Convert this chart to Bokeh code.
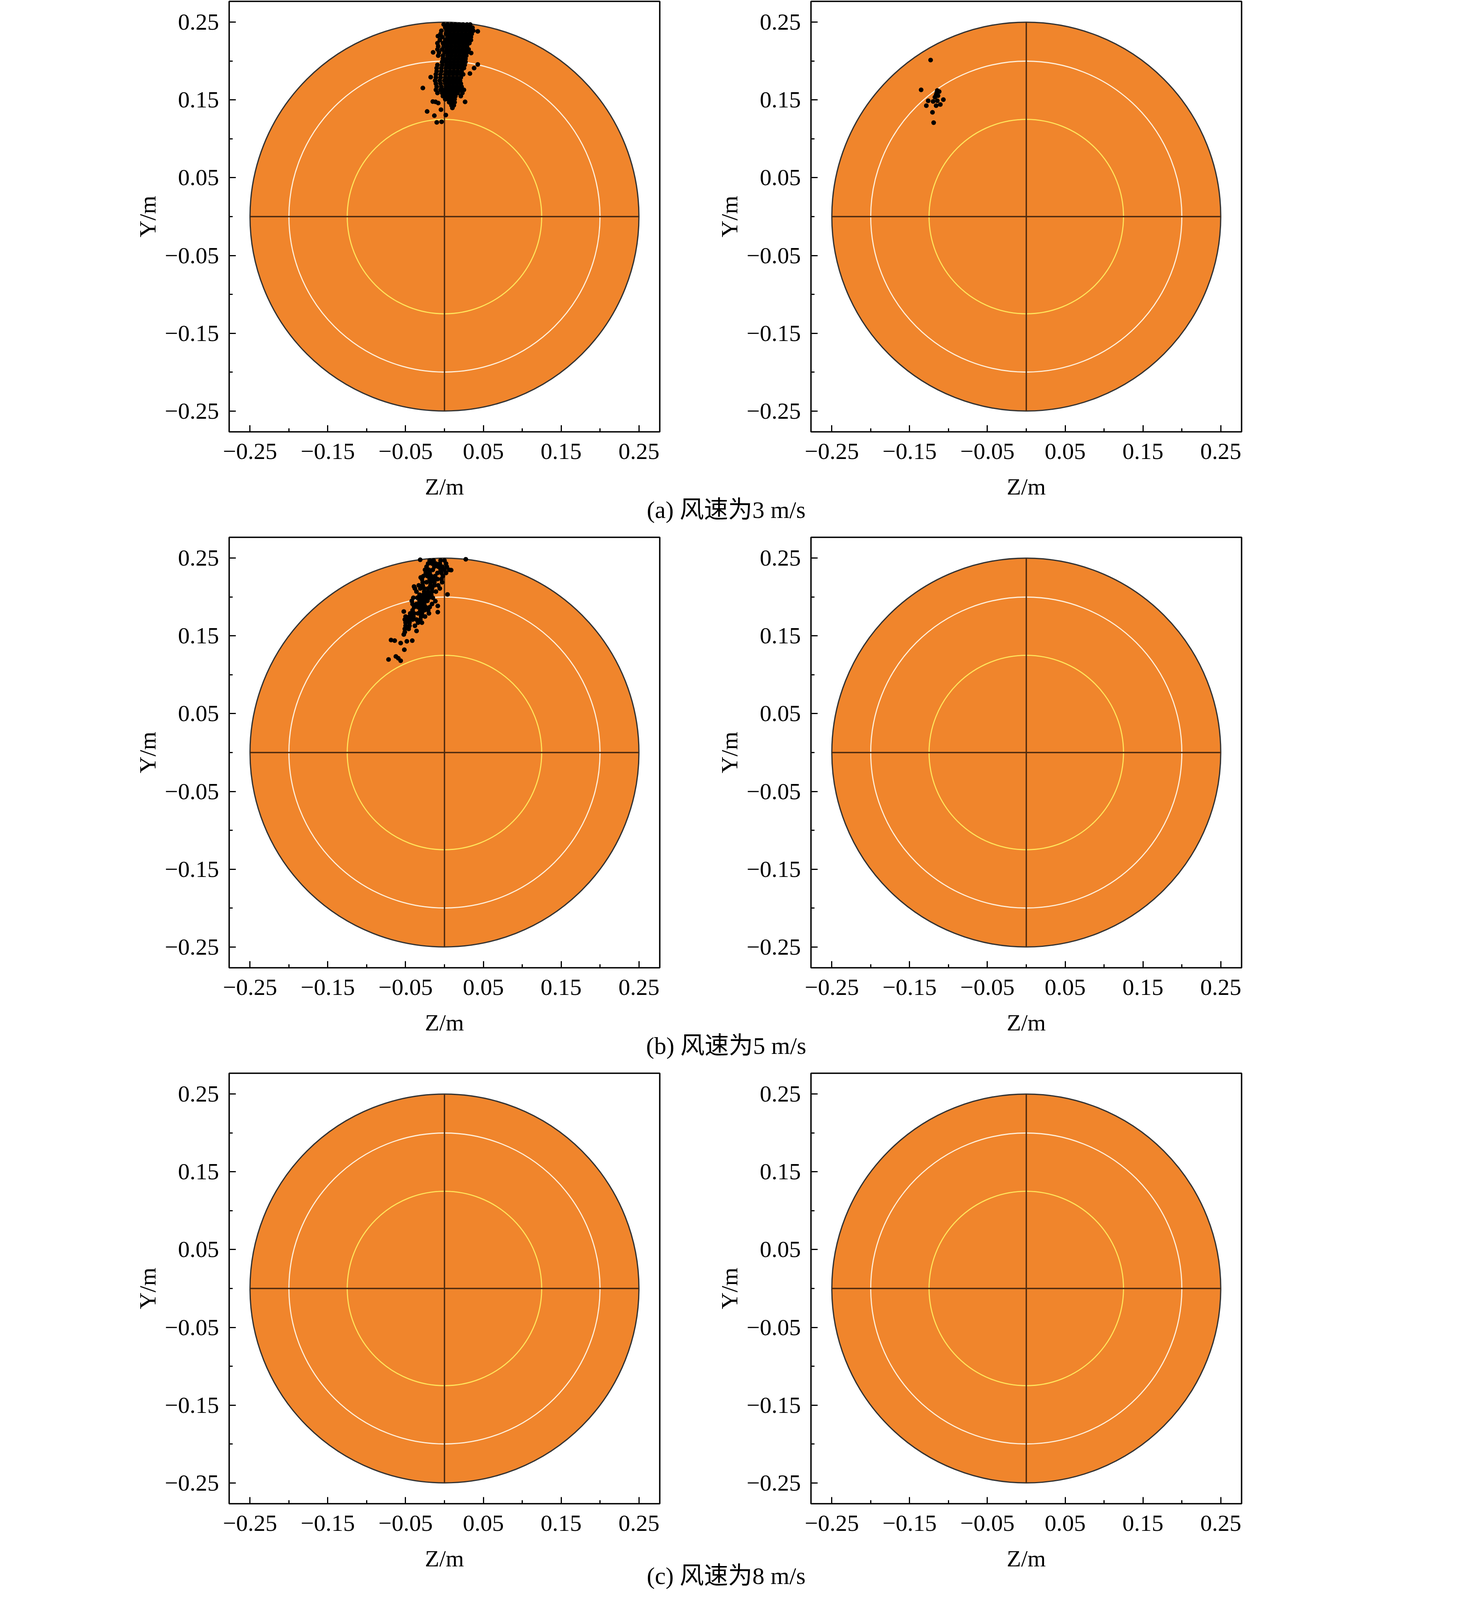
from bokeh.plotting import figure
from bokeh.layouts import column, row
from bokeh.models import Range1d, FixedTicker, CustomJSTickFormatter
from bokeh.core.properties import value
from bokeh.embed import file_html
from bokeh.resources import INLINE

# ---------------- data ----------------
TICKS = [-0.25, -0.15, -0.05, 0.05, 0.15, 0.25]
MINOR_TICKS = [-0.2, -0.1, 0.0, 0.1, 0.2]
AX_LIM = 0.2768
OUTER_R = 0.25
WHITE_R = 0.20
YELLOW_R = 0.125

CAPTIONS = ["(a) 风速为3 m/s", "(b) 风速为5 m/s", "(c) 风速为8 m/s"]
X_LABEL = "Z/m"
Y_LABEL = "Y/m"

# (a) left panel: dense cluster, rows of (Y, [Z ...])
A_LEFT_ROWS = [
    (0.247, [-0.001, 0.004, 0.009, 0.014, 0.019, 0.024, 0.029, 0.033]),
    (0.243, [0.001, 0.006, 0.011, 0.016, 0.021, 0.026, 0.031, 0.036]),
    (0.239, [-0.004, 0.003, 0.008, 0.013, 0.018, 0.023, 0.028, 0.033, 0.037]),
    (0.235, [-0.005, 0.002, 0.007, 0.012, 0.017, 0.022, 0.027, 0.032, 0.035]),
    (0.231, [-0.003, 0.004, 0.009, 0.014, 0.019, 0.024, 0.029, 0.034]),
    (0.227, [-0.006, 0.001, 0.006, 0.011, 0.016, 0.021, 0.026, 0.031, 0.034]),
    (0.223, [-0.009, -0.002, 0.003, 0.008, 0.013, 0.018, 0.023, 0.028, 0.032]),
    (0.219, [-0.008, -0.001, 0.004, 0.009, 0.014, 0.019, 0.024, 0.029]),
    (0.215, [-0.009, -0.003, 0.003, 0.008, 0.013, 0.018, 0.023, 0.028, 0.031]),
    (0.211, [-0.007, 0.000, 0.005, 0.010, 0.015, 0.020, 0.025, 0.029]),
    (0.207, [-0.008, -0.002, 0.004, 0.009, 0.014, 0.019, 0.024, 0.028]),
    (0.203, [-0.002, 0.003, 0.008, 0.013, 0.018, 0.023, 0.027]),
    (0.199, [-0.003, 0.002, 0.007, 0.012, 0.017, 0.022, 0.027]),
    (0.195, [-0.009, -0.003, 0.003, 0.008, 0.013, 0.018, 0.023, 0.026]),
    (0.191, [-0.010, -0.004, 0.002, 0.007, 0.012, 0.017, 0.022, 0.025]),
    (0.187, [-0.010, -0.004, 0.002, 0.007, 0.012, 0.017, 0.022]),
    (0.183, [-0.011, -0.005, 0.001, 0.006, 0.011, 0.016, 0.021, 0.024]),
    (0.179, [-0.011, -0.005, 0.001, 0.006, 0.011, 0.016, 0.021]),
    (0.175, [-0.012, -0.006, 0.000, 0.005, 0.010, 0.015, 0.020]),
    (0.171, [-0.011, -0.005, 0.001, 0.006, 0.011, 0.016, 0.021]),
    (0.167, [-0.010, -0.004, 0.002, 0.007, 0.012, 0.017, 0.022]),
    (0.163, [-0.011, -0.005, 0.000, 0.005, 0.010, 0.015, 0.020, 0.025]),
    (0.159, [-0.009, -0.003, 0.002, 0.007, 0.012, 0.017, 0.023]),
    (0.155, [-0.002, 0.002, 0.006, 0.010, 0.014, 0.021]),
    (0.151, [0.001, 0.005, 0.009, 0.013]),
    (0.147, [0.006, 0.010, 0.013]),
    (0.143, [0.009, 0.012]),
]
A_LEFT_EXTRA_Z = [0.0428, -0.0084, -0.0146, 0.0343, 0.0428, 0.0381, 0.0327, -0.0177,
                  -0.0278, -0.0115, 0.0265, -0.0045, -0.0223, -0.0130, 0.0017, -0.0099,
                  -0.0037, 0.0102, -0.0150, -0.0080]
A_LEFT_EXTRA_Y = [0.2383, 0.2321, 0.2112, 0.2104, 0.1957, 0.1910, 0.1840, 0.1794,
                  0.1654, 0.1476, 0.1476, 0.1375, 0.1352, 0.1298, 0.1306, 0.1212,
                  0.1220, 0.1398, 0.1480, 0.1460]

# (a) right panel
A_RIGHT_Z = [-0.1230, -0.1352, -0.1144, -0.1120, -0.1159, -0.1175, -0.1261, -0.1198,
             -0.1144, -0.1066, -0.1285, -0.1159, -0.1105, -0.1206, -0.1191, -0.1150, -0.1135]
A_RIGHT_Y = [0.2013, 0.1630, 0.1622, 0.1607, 0.1567, 0.1536, 0.1489, 0.1481,
             0.1489, 0.1505, 0.1427, 0.1427, 0.1442, 0.1341, 0.1208, 0.1600, 0.1555]

# (b) left panel
B_LEFT_ROWS = [
    (0.247, [-0.019, -0.014, -0.005, 0.000]),
    (0.243, [-0.021, -0.016, -0.011, -0.006, 0.002]),
    (0.239, [-0.023, -0.013, -0.008, -0.003, 0.003]),
    (0.235, [-0.025, -0.020, -0.015, -0.005, 0.000, 0.006]),
    (0.231, [-0.024, -0.019, -0.009, -0.004, 0.002]),
    (0.227, [-0.027, -0.022, -0.017, -0.012, -0.002]),
    (0.223, [-0.029, -0.019, -0.014, -0.009, -0.004]),
    (0.219, [-0.028, -0.023, -0.018, -0.013, -0.003]),
    (0.215, [-0.033, -0.028, -0.018, -0.013, -0.008]),
    (0.211, [-0.038, -0.031, -0.026, -0.021, -0.016, -0.006]),
    (0.207, [-0.036, -0.026, -0.021, -0.016, -0.011]),
    (0.203, [-0.032, -0.027, -0.022, -0.017]),
    (0.199, [-0.040, -0.035, -0.030, -0.025, -0.020, -0.015]),
    (0.195, [-0.042, -0.032, -0.027, -0.022]),
    (0.191, [-0.041, -0.036, -0.031, -0.026, -0.016]),
    (0.187, [-0.039, -0.034, -0.029, -0.024, -0.019]),
    (0.183, [-0.041, -0.031, -0.026, -0.021]),
    (0.179, [-0.044, -0.039, -0.034, -0.029, -0.020]),
    (0.175, [-0.050, -0.045, -0.040, -0.030, -0.025]),
    (0.171, [-0.051, -0.046, -0.041, -0.036, -0.031]),
    (0.167, [-0.050, -0.045, -0.034, -0.029]),
    (0.163, [-0.050, -0.045, -0.038]),
    (0.159, [-0.051, -0.046]),
    (0.155, [-0.051]),
]
B_LEFT_EXTRA_Z = [-0.0719, -0.0625, -0.0594, -0.0563, -0.0516, -0.0563, -0.0687, -0.0640,
                  -0.0484, -0.0414, -0.0523, -0.0359, -0.0523, -0.0086, -0.0086, -0.0117,
                  0.0039, -0.0312, 0.0274, 0.0086, -0.0391, -0.0305]
B_LEFT_EXTRA_Y = [0.1197, 0.1236, 0.1213, 0.1181, 0.1322, 0.1408, 0.1447, 0.1439,
                  0.1431, 0.1439, 0.1518, 0.1564, 0.1814, 0.1806, 0.1885, 0.1947,
                  0.2033, 0.2479, 0.2486, 0.2346, 0.2135, 0.2252]


def flatten(rows, extra_z, extra_y):
    zs, ys = [], []
    for yv, zrow in rows:
        for zv in zrow:
            zs.append(zv)
            ys.append(yv)
    return zs + list(extra_z), ys + list(extra_y)


A_LEFT_Z, A_LEFT_Y = flatten(A_LEFT_ROWS, A_LEFT_EXTRA_Z, A_LEFT_EXTRA_Y)
B_LEFT_Z, B_LEFT_Y = flatten(B_LEFT_ROWS, B_LEFT_EXTRA_Z, B_LEFT_EXTRA_Y)

PANELS = [
    [(A_LEFT_Z, A_LEFT_Y), (A_RIGHT_Z, A_RIGHT_Y)],
    [(B_LEFT_Z, B_LEFT_Y), ([], [])],
    [([], []), ([], [])],
]

# ---------------- style / layout (CSS px) ----------------
SERIF = "Liberation Serif"
CAP_FONT = "Liberation Serif, Noto Sans CJK SC"
FS = "60px"
CAP_FS = "62px"
ORANGE = "#F0852C"
FRAME = 1102
L_BORDER_L, L_BORDER_R = 586, 93
R_BORDER_L, R_BORDER_R = 294, 36
LEFT_W = L_BORDER_L + FRAME + L_BORDER_R
RIGHT_W = R_BORDER_L + FRAME + R_BORDER_R
TOP_B, BOTTOM_B = 3, 104
FIG_H = TOP_B + FRAME + BOTTOM_B
STRIP_H = 163
LAST_STRIP_H = 118
TOTAL_W = LEFT_W + RIGHT_W
ZLABEL_X = [L_BORDER_L + FRAME / 2, LEFT_W + R_BORDER_L + FRAME / 2]
CAPTION_X = 1858
CAPTION_DY = [95, 95, 80]

fmt = CustomJSTickFormatter(code="return (tick < -1e-9 ? '\u2212' : '') + Math.abs(tick).toFixed(2);")


def make_panel(zs, ys, border_left, border_right, width):
    p = figure(width=width, height=FIG_H, output_backend="svg", toolbar_location=None,
               x_range=Range1d(-AX_LIM, AX_LIM), y_range=Range1d(-AX_LIM, AX_LIM),
               min_border_left=border_left, min_border_right=border_right,
               min_border_top=TOP_B, min_border_bottom=BOTTOM_B, title=None)
    p.grid.visible = False
    p.background_fill_color = "white"
    p.border_fill_color = "white"
    p.outline_line_color = "black"
    p.outline_line_width = 3.6
    for ax in (p.xaxis[0], p.yaxis[0]):
        ax.ticker = FixedTicker(ticks=TICKS, minor_ticks=MINOR_TICKS)
        ax.formatter = fmt
        ax.axis_line_color = None
        ax.major_tick_in = 17
        ax.major_tick_out = 0
        ax.minor_tick_in = 9
        ax.minor_tick_out = 0
        ax.major_tick_line_width = 3
        ax.minor_tick_line_width = 3
        ax.major_tick_line_color = "black"
        ax.minor_tick_line_color = "black"
        ax.major_label_text_font = SERIF
        ax.major_label_text_font_size = FS
        ax.major_label_text_color = "black"
    p.xaxis[0].major_label_standoff = 30
    p.yaxis[0].major_label_standoff = 26
    p.yaxis[0].axis_label = Y_LABEL
    p.yaxis[0].axis_label_text_font = SERIF
    p.yaxis[0].axis_label_text_font_size = FS
    p.yaxis[0].axis_label_text_font_style = "normal"
    p.yaxis[0].axis_label_text_color = "black"
    p.yaxis[0].axis_label_standoff = 8

    # target rings
    p.circle(x=[0], y=[0], radius=OUTER_R, fill_color=ORANGE, line_color="#333333", line_width=3.2)
    p.circle(x=[0], y=[0], radius=WHITE_R, fill_color=None, line_color="#FFF0DC", line_width=2.8)
    p.circle(x=[0], y=[0], radius=YELLOW_R, fill_color=None, line_color="#FFE45C", line_width=2.8)
    p.segment(x0=[-OUTER_R, 0], y0=[0, -OUTER_R], x1=[OUTER_R, 0], y1=[0, OUTER_R],
              line_color="#4d2a0f", line_width=3.4)
    if len(zs):
        p.scatter(x=zs, y=ys, size=12, marker="circle", fill_color="black", line_color=None)
    return p


def make_strip(caption, height, cap_dy):
    s = figure(width=TOTAL_W, height=height, output_backend="svg", toolbar_location=None,
               x_range=Range1d(0, TOTAL_W), y_range=Range1d(0, height),
               min_border=0, title=None)
    s.axis.visible = False
    s.grid.visible = False
    s.outline_line_color = None
    s.background_fill_color = "white"
    s.border_fill_color = "white"
    top = height
    s.text(x=ZLABEL_X, y=[top - 36, top - 36], text=[X_LABEL, X_LABEL],
           text_font=value(SERIF), text_font_size=value(FS), text_color="black",
           text_align="center", text_baseline="middle")
    s.text(x=[CAPTION_X], y=[top - cap_dy], text=[caption],
           text_font=value(CAP_FONT), text_font_size=value(CAP_FS), text_color="black",
           text_align="center", text_baseline="middle")
    return s


items = []
for i, ((lz, ly), (rz, ry)) in enumerate(PANELS):
    left = make_panel(lz, ly, L_BORDER_L, L_BORDER_R, LEFT_W)
    right = make_panel(rz, ry, R_BORDER_L, R_BORDER_R, RIGHT_W)
    items.append(row(left, right))
    items.append(make_strip(CAPTIONS[i], STRIP_H if i < 2 else LAST_STRIP_H, CAPTION_DY[i]))

layout = column(*items)
open("out.html", "w").write(file_html(layout, INLINE))
